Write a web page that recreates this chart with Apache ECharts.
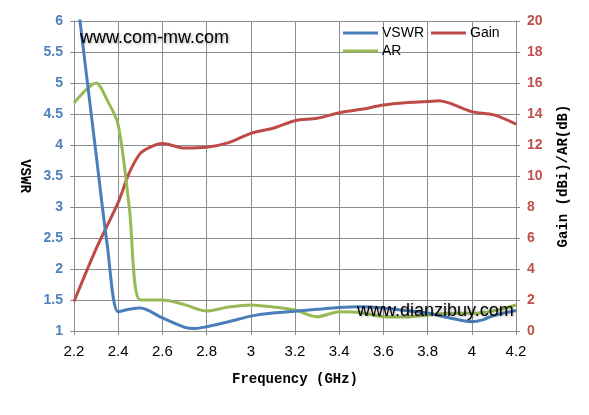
<!DOCTYPE html>
<html>
<head>
<meta charset="utf-8">
<script src="https://cdn.jsdelivr.net/npm/echarts@6/dist/echarts.min.js"></script>
<style>html,body{margin:0;padding:0;background:#fff}#c{width:589px;height:415px}</style>
</head>
<body>
<div id="c"></div>
<script>
// Data
var vswrFreq = [2.2, 2.3, 2.35, 2.4, 2.45, 2.5, 2.6, 2.7, 2.75, 2.8, 2.9, 3.0, 3.1, 3.2, 3.3, 3.4, 3.5, 3.6, 3.7, 3.8, 3.9, 4.0, 4.05, 4.1, 4.2];
var vswr     = [6.8, 3.85, 2.4, 1.31, 1.35, 1.37, 1.21, 1.06, 1.04, 1.07, 1.15, 1.24, 1.29, 1.32, 1.35, 1.38, 1.39, 1.37, 1.33, 1.29, 1.21, 1.15, 1.18, 1.25, 1.33];

var arFreq = [2.2, 2.3, 2.35, 2.4, 2.45, 2.5, 2.6, 2.7, 2.8, 2.9, 3.0, 3.1, 3.2, 3.3, 3.4, 3.5, 3.6, 3.7, 3.8, 3.9, 4.0, 4.1, 4.2];
var ar     = [14.7, 16.0, 14.9, 13.3, 8.0, 2.0, 2.0, 1.7, 1.29, 1.55, 1.68, 1.55, 1.35, 0.92, 1.25, 1.18, 0.92, 0.9, 1.03, 1.14, 1.14, 1.31, 1.68];

var gainFreq = [2.2, 2.3, 2.4, 2.45, 2.5, 2.55, 2.6, 2.7, 2.8, 2.9, 3.0, 3.1, 3.2, 3.3, 3.4, 3.5, 3.6, 3.7, 3.8, 3.85, 3.9, 4.0, 4.1, 4.2];
var gain     = [1.9, 5.3, 8.3, 10.2, 11.46, 11.9, 12.1, 11.8, 11.85, 12.15, 12.75, 13.08, 13.57, 13.72, 14.08, 14.3, 14.58, 14.73, 14.8, 14.86, 14.7, 14.15, 13.94, 13.35];

var xTicks = {min: 2.2, max: 4.2, step: 0.2};
var leftTicks = {min: 1, max: 6, step: 0.5};
var rightTicks = {min: 0, max: 20, step: 2};

function pairs(xs, ys) { return xs.map(function (x, i) { return [x, ys[i]]; }); }
function fmt(v) { return String(parseFloat(v.toFixed(1))); }

var gridColor = '#8c8c8c';
var chart = echarts.init(document.getElementById('c'), null, {renderer: 'canvas'});
chart.setOption({
  animation: false,
  backgroundColor: '#ffffff',
  grid: {left: 74, right: 73, top: 21, bottom: 84, containLabel: false},
  legend: [
    {data: ['VSWR', 'Gain'], left: 338, top: 21, itemWidth: 35, itemHeight: 14, itemGap: 7,
     icon: 'path://M0,0 L35,0 L35,3 L0,3 Z',
     textStyle: {fontFamily: 'Liberation Sans', fontSize: 14, color: '#000', padding: [0, 0, 0, -1]}},
    {data: ['AR'], left: 338, top: 39, itemWidth: 35, itemHeight: 14,
     icon: 'path://M0,0 L35,0 L35,3 L0,3 Z',
     textStyle: {fontFamily: 'Liberation Sans', fontSize: 14, color: '#000', padding: [0, 0, 0, -1]}}
  ],
  xAxis: {
    type: 'value', min: xTicks.min, max: xTicks.max, interval: xTicks.step,
    name: 'Frequency (GHz)', nameLocation: 'middle', nameGap: 41,
    nameTextStyle: {fontFamily: 'Liberation Mono', fontSize: 14, fontWeight: 'bold', color: '#000'},
    axisLine: {show: true, lineStyle: {color: gridColor, width: 1}},
    axisTick: {show: true, length: 4, lineStyle: {color: gridColor}},
    splitLine: {show: true, lineStyle: {color: gridColor, width: 1}},
    axisLabel: {formatter: fmt, fontFamily: 'Liberation Sans', fontSize: 15, color: '#000', margin: 13}
  },
  yAxis: [
    {type: 'value', min: leftTicks.min, max: leftTicks.max, interval: leftTicks.step, position: 'left',
     name: 'VSWR', nameLocation: 'middle', nameGap: 42, nameRotate: -90,
     nameTextStyle: {fontFamily: 'Liberation Mono', fontSize: 14, fontWeight: 'bold', color: '#000'},
     axisLine: {show: true, lineStyle: {color: gridColor, width: 1}},
     axisTick: {show: true, length: 4, lineStyle: {color: gridColor}},
     splitLine: {show: true, lineStyle: {color: gridColor, width: 1}},
     axisLabel: {formatter: fmt, fontFamily: 'Liberation Sans', fontSize: 14, fontWeight: 'bold', color: '#4F81BD', margin: 11}},
    {type: 'value', min: rightTicks.min, max: rightTicks.max, interval: rightTicks.step, position: 'right',
     name: 'Gain (dBi)/AR(dB)', nameLocation: 'middle', nameGap: 40, nameRotate: 90,
     nameTextStyle: {fontFamily: 'Liberation Mono', fontSize: 14, fontWeight: 'bold', color: '#000'},
     axisLine: {show: true, lineStyle: {color: gridColor, width: 1}},
     axisTick: {show: true, length: 4, lineStyle: {color: gridColor}},
     splitLine: {show: false},
     axisLabel: {fontFamily: 'Liberation Sans', fontSize: 14, fontWeight: 'bold', color: '#C0504D', margin: 11}}
  ],
  series: [
    {name: 'VSWR', type: 'line', yAxisIndex: 0, data: pairs(vswrFreq, vswr), smooth: 0.3, showSymbol: false,
     color: '#4A7EBB', lineStyle: {width: 3, color: '#4A7EBB'}, z: 3},
    {name: 'Gain', type: 'line', yAxisIndex: 1, data: pairs(gainFreq, gain), smooth: 0.3, showSymbol: false,
     color: '#BE4B48', lineStyle: {width: 3, color: '#BE4B48'}, z: 2},
    {name: 'AR', type: 'line', yAxisIndex: 1, data: pairs(arFreq, ar), smooth: 0.3, showSymbol: false,
     color: '#98B954', lineStyle: {width: 3, color: '#98B954'}, z: 2}
  ],
  graphic: [
    {type: 'text', left: 80, top: 29, z: 100, style: {text: 'www.com-mw.com', fontFamily: 'Liberation Sans', fontSize: 18,
      fill: '#000', textShadowColor: 'rgba(0,0,0,0.35)', textShadowBlur: 3, textShadowOffsetX: 1, textShadowOffsetY: 1}},
    {type: 'text', left: 357, top: 302, z: 100, style: {text: 'www.dianzibuy.com', fontFamily: 'Liberation Sans', fontSize: 18,
      fill: '#000', textShadowColor: 'rgba(0,0,0,0.35)', textShadowBlur: 3, textShadowOffsetX: 1, textShadowOffsetY: 1}}
  ]
});
</script>
</body>
</html>
